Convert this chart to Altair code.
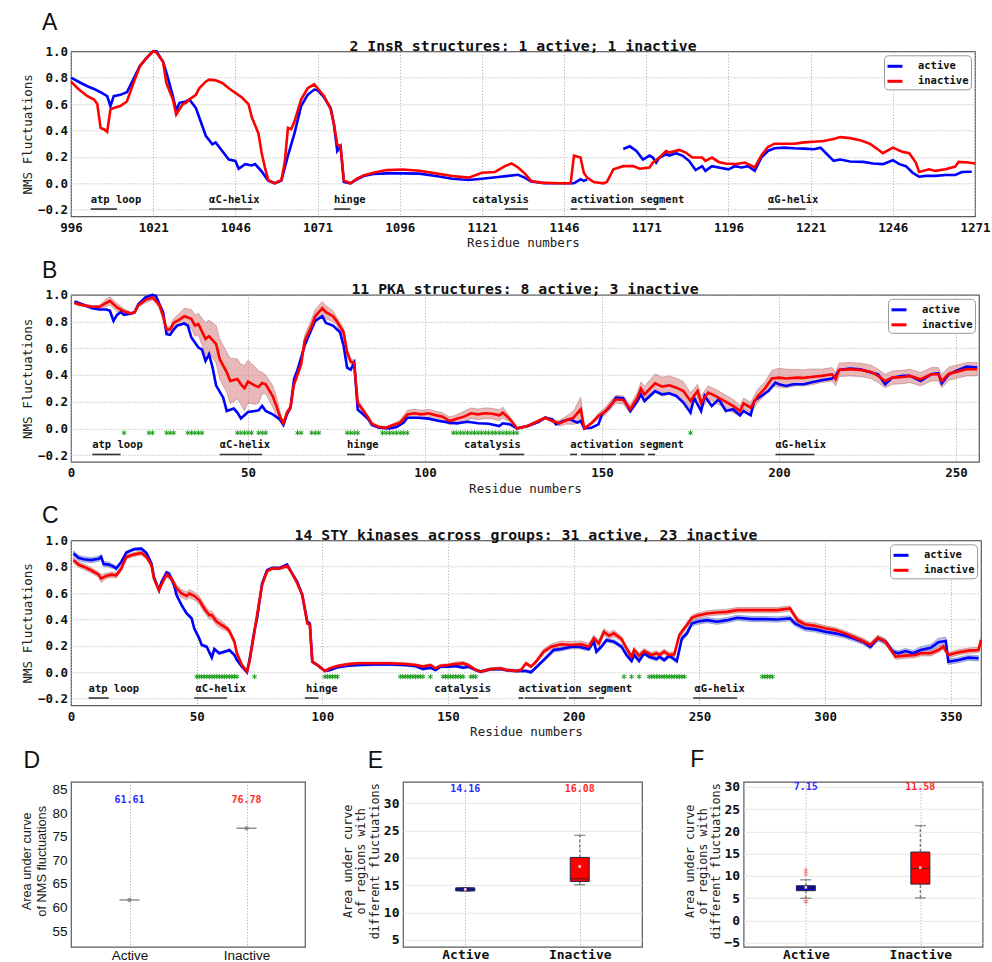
import json
import altair as alt
import pandas as pd

MONO = "DejaVu Sans Mono"
SANS = "Liberation Sans"
BLUE = "#0000ff"
RED = "#ff0000"
GREEN = "#1b9e1b"
ASTERISK = "M0,-1L0,1M-0.87,-0.5L0.87,0.5M-0.87,0.5L0.87,-0.5"
PLUS = "M-1,0L1,0M0,-1L0,1"
STATES = ["active", "inactive"]

# ---------------- Panel A : InsR ----------------
a_title = "2 InsR structures: 1 active; 1 inactive"
a_ticks = [996, 1021, 1046, 1071, 1096, 1121, 1146, 1171, 1196, 1221, 1246, 1271]
a_active = [(996,0.80),(999,0.76),(1001,0.735),(1003,0.715),(1005,0.69),(1007,0.66),(1008,0.585),(1009,0.66),
    (1011,0.67),(1013,0.69),(1015,0.79),(1017,0.89),(1019,0.95),(1021,1.0),(1022,1.0),(1024,0.92),(1025,0.84),
    (1027,0.66),(1028,0.55),(1029,0.61),(1031,0.62),(1032,0.635),(1034,0.57),(1035,0.50),(1037,0.36),(1039,0.295),
    (1040,0.31),(1042,0.245),(1044,0.18),(1046,0.17),(1047,0.11),(1049,0.145),(1051,0.135),(1052,0.145),(1054,0.09),
    (1056,0.02),(1058,0.0),(1060,0.02),(1062,0.21),(1064,0.38),(1066,0.585),(1068,0.67),(1070,0.71),(1071,0.705),
    (1073,0.65),(1075,0.57),(1076,0.445),(1077,0.245),(1078,0.28),(1079,0.01),(1081,0.0),(1083,0.03),(1085,0.055),
    (1088,0.07),(1092,0.075),(1097,0.075),(1102,0.073),(1107,0.055),(1112,0.035),(1117,0.025),(1121,0.035),
    (1126,0.048),(1129,0.056),(1132,0.065),(1134,0.043),(1136,0.013),(1140,0.0),(1144,0.0),(1149,0.0),(1151,0.03),
    (1152,0.018),(1153,0.03),(1158,None),(1164,0.26),(1166,0.28),(1168,0.245),(1170,0.18),(1172,0.21),(1173,0.195),
    (1174,0.157),(1175,0.195),(1177,0.22),(1178,0.21),(1180,0.228),(1182,0.21),(1184,0.17),(1186,0.10),(1188,0.13),
    (1189,0.094),(1191,0.13),(1193,0.12),(1196,0.106),(1198,0.13),(1200,0.12),(1202,0.13),(1204,0.094),(1206,0.195),
    (1208,0.245),(1210,0.265),(1213,0.27),(1216,0.265),(1219,0.263),(1222,0.258),(1224,0.27),(1226,0.22),(1228,0.17),
    (1230,0.18),(1233,0.165),(1237,0.162),(1240,0.15),(1243,0.145),(1246,0.175),(1248,0.145),(1250,0.13),(1252,0.08),
    (1254,0.05),(1256,0.056),(1259,0.056),(1262,0.063),(1265,0.063),(1267,0.086),(1270,0.088)]
a_inactive = [(996,0.77),(998,0.72),(999,0.70),(1001,0.66),(1003,0.635),(1004,0.60),(1005,0.42),(1006,0.41),
    (1007,0.39),(1008,0.56),(1009,0.57),(1011,0.585),(1013,0.62),(1015,0.76),(1017,0.89),(1019,0.95),(1021,1.0),
    (1022,0.99),(1024,0.92),(1025,0.76),(1027,0.635),(1028,0.52),(1030,0.60),(1031,0.61),(1032,0.635),(1034,0.67),
    (1035,0.72),(1037,0.77),(1038,0.785),(1040,0.78),(1042,0.76),(1044,0.72),(1046,0.685),(1048,0.65),(1050,0.60),
    (1051,0.50),(1053,0.38),(1054,0.23),(1055,0.12),(1056,0.025),(1058,0.0),(1060,0.025),(1061,0.155),(1062,0.42),
    (1063,0.41),(1064,0.47),(1066,0.635),(1068,0.72),(1070,0.75),(1071,0.72),(1073,0.66),(1075,0.56),(1076,0.445),
    (1077,0.295),(1078,0.28),(1079,0.02),(1081,0.0),(1083,0.035),(1085,0.06),(1088,0.08),(1092,0.10),(1097,0.105),
    (1102,0.095),(1107,0.075),(1112,0.055),(1117,0.043),(1121,0.08),(1125,0.086),(1128,0.13),(1130,0.15),(1132,0.12),
    (1134,0.075),(1136,0.018),(1139,0.005),(1144,0.0),(1148,0.0),(1149,0.21),(1151,0.195),(1152,0.08),(1153,0.043),
    (1155,0.01),(1158,0.0),(1159,0.01),(1161,0.106),(1164,0.13),(1167,0.13),(1169,0.11),(1172,0.12),(1173,0.157),
    (1175,0.195),(1177,0.245),(1178,0.233),(1181,0.253),(1183,0.233),(1185,0.195),(1188,0.195),(1189,0.17),
    (1191,0.195),(1193,0.162),(1195,0.15),(1198,0.145),(1201,0.157),(1204,0.12),(1206,0.21),(1208,0.275),(1210,0.30),
    (1213,0.30),(1216,0.30),(1219,0.31),(1222,0.315),(1225,0.32),(1228,0.335),(1230,0.35),(1233,0.342),(1236,0.327),
    (1239,0.30),(1241,0.265),(1243,0.228),(1246,0.27),(1249,0.238),(1251,0.228),(1253,0.157),(1254,0.086),
    (1257,0.106),(1259,0.094),(1262,0.106),(1265,0.127),(1266,0.162),(1269,0.157),(1271,0.15)]
a_ann_text = ["atp loop", "αC-helix", "hinge", "catalysis", "activation segment", "αG-helix"]
a_ann_pos = [1002, 1038, 1076, 1118, 1148, 1208]
a_seg_start = [1002, 1038, 1076, 1128, 1148, 1151, 1166.5, 1175, 1208]
a_seg_end = [1010, 1051, 1081, 1135, 1150, 1166, 1174, 1177, 1219.5]

# ---------------- Panel B : PKA ----------------
b_title = "11 PKA structures: 8 active; 3 inactive"
b_ticks = [0, 50, 100, 150, 200, 250]
b_active = [(1,0.95),(2,0.94),(4,0.92),(6,0.90),(8,0.89),(10,0.89),(11,0.88),(12,0.805),(13,0.85),(14,0.87),
    (15,0.85),(17,0.86),(18,0.87),(19,0.93),(21,0.98),(23,1.0),(24,0.99),(25,0.93),(26,0.87),(27,0.705),(28,0.70),
    (29,0.74),(30,0.77),(32,0.785),(33,0.77),(34,0.68),(36,0.605),(37,0.59),(38,0.505),(39,0.555),(40,0.455),
    (41,0.32),(43,0.23),(44,0.13),(46,0.148),(47,0.118),(48,0.075),(50,0.123),(52,0.13),(53,0.135),(54,0.168),
    (55,0.13),(57,0.105),(59,0.068),(60,0.025),(61,0.105),(62,0.155),(63,0.37),(64,0.44),(66,0.62),(68,0.75),
    (69,0.805),(71,0.84),(72,0.79),(74,0.77),(76,0.72),(77,0.62),(78,0.455),(79,0.44),(80,0.49),(81,0.14),
    (82,0.118),(84,0.068),(85,0.025),(87,0.005),(90,0.0),(92,0.01),(94,0.043),(95,0.08),(98,0.08),(101,0.073),
    (104,0.055),(107,0.043),(109,0.038),(112,0.05),(115,0.038),(118,0.035),(121,0.018),(122,0.038),(124,0.03),
    (126,0.0),(129,0.018),(132,0.048),(134,0.08),(136,0.068),(137,0.03),(139,0.055),(141,0.068),(143,0.043),
    (144,0.055),(145,0.0),(147,0.005),(149,0.03),(150,0.105),(152,0.155),(154,0.23),(156,0.225),(158,0.13),
    (160,0.205),(161,0.255),(162,0.205),(165,0.28),(167,0.255),(169,0.263),(171,0.243),(173,0.193),(175,0.118),
    (176,0.23),(178,0.13),(179,0.243),(181,0.168),(183,0.218),(185,0.13),(187,0.143),(189,0.098),(190,0.13),
    (192,0.098),(193,0.205),(195,0.243),(197,0.28),(199,0.343),(200,0.33),(202,0.318),(204,0.33),(207,0.33),
    (209,0.343),(212,0.36),(215,0.373),(216,0.393),(217,0.438),(220,0.448),(223,0.443),(226,0.418),(228,0.405),
    (230,0.33),(232,0.38),(235,0.393),(237,0.393),(240,0.355),(243,0.405),(245,0.413),(246,0.338),(248,0.405),
    (250,0.43),(253,0.463),(256,0.455)]
b_inactive = [(1,0.94,0.01),(2,0.93,0.01),(4,0.92,0.01),(6,0.91,0.01),(8,0.91,0.01),(10,0.94,0.03),(11,0.955,0.03),
    (13,0.905,0.03),(15,0.875,0.02),(17,0.86,0.01),(18,0.87,0.01),(19,0.92,0.01),(21,0.96,0.02),(23,0.98,0.02),
    (24,0.955,0.02),(25,0.92,0.02),(26,0.84,0.02),(27,0.74,0.02),(28,0.74,0.02),(29,0.79,0.03),(31,0.82,0.05),
    (32,0.84,0.06),(34,0.82,0.07),(35,0.77,0.08),(36,0.78,0.08),(38,0.67,0.12),(39,0.69,0.12),(41,0.63,0.14),
    (42,0.52,0.15),(44,0.42,0.15),(45,0.355,0.17),(47,0.37,0.15),(48,0.33,0.15),(49,0.30,0.17),(50,0.35,0.16),
    (52,0.32,0.14),(53,0.31,0.12),(54,0.34,0.08),(55,0.33,0.07),(57,0.24,0.08),(58,0.17,0.07),(59,0.09,0.04),
    (60,0.038,0.01),(61,0.118,0.02),(62,0.155,0.02),(63,0.33,0.02),(65,0.48,0.03),(66,0.655,0.04),(68,0.77,0.05),
    (69,0.84,0.05),(71,0.90,0.05),(72,0.87,0.05),(74,0.84,0.04),(75,0.805,0.03),(77,0.72,0.03),(78,0.57,0.03),
    (79,0.50,0.02),(80,0.49,0.02),(81,0.19,0.02),(82,0.155,0.02),(84,0.08,0.01),(85,0.035,0.01),(87,0.01,0.01),
    (89,0.005,0.01),(91,0.025,0.01),(93,0.043,0.02),(95,0.105,0.03),(97,0.113,0.03),(99,0.105,0.03),
    (101,0.113,0.03),(103,0.098,0.03),(105,0.088,0.03),(107,0.055,0.03),(109,0.073,0.03),(111,0.088,0.04),
    (113,0.113,0.04),(115,0.105,0.04),(117,0.113,0.04),(119,0.11,0.04),(121,0.098,0.04),(122,0.118,0.04),
    (124,0.068,0.02),(126,0.0,0.01),(129,0.018,0.01),(132,0.055,0.01),(134,0.08,0.01),(136,0.055,0.01),
    (138,0.038,0.02),(140,0.063,0.03),(142,0.08,0.05),(144,0.143,0.09),(145,0.0,0.01),(147,0.038,0.01),
    (149,0.093,0.02),(151,0.13,0.03),(153,0.193,0.03),(154,0.218,0.03),(156,0.213,0.03),(158,0.143,0.03),
    (160,0.23,0.04),(161,0.298,0.05),(162,0.255,0.06),(165,0.338,0.07),(167,0.313,0.07),(169,0.323,0.07),
    (171,0.305,0.07),(173,0.28,0.07),(175,0.205,0.06),(177,0.28,0.05),(178,0.193,0.05),(180,0.268,0.05),
    (182,0.243,0.05),(184,0.213,0.05),(185,0.198,0.05),(187,0.168,0.05),(189,0.13,0.04),(190,0.188,0.04),
    (192,0.155,0.04),(194,0.243,0.05),(196,0.298,0.05),(198,0.373,0.06),(200,0.38,0.07),(202,0.373,0.07),
    (205,0.38,0.06),(207,0.378,0.06),(209,0.385,0.06),(212,0.393,0.05),(215,0.405,0.05),(216,0.368,0.05),
    (217,0.438,0.05),(220,0.443,0.05),(223,0.438,0.05),(226,0.423,0.05),(228,0.393,0.05),(230,0.355,0.05),
    (232,0.38,0.05),(235,0.385,0.05),(237,0.393,0.05),(240,0.368,0.05),(243,0.405,0.05),(245,0.405,0.05),
    (246,0.355,0.05),(248,0.41,0.05),(250,0.423,0.05),(253,0.443,0.05),(256,0.443,0.05)]
b_ann_text = ["atp loop", "αC-helix", "hinge", "catalysis", "activation segment", "αG-helix"]
b_ann_pos = [6, 42, 78, 111, 141, 199]
b_seg_start = [6, 42, 78, 121, 141, 144, 155, 163, 199]
b_seg_end = [14, 54, 83, 128, 143, 154, 162, 165, 210]
b_stars = [15, 22, 23, 27, 28, 29, 33, 34, 35, 36, 37, 47, 48, 49, 50, 51, 53, 54, 55, 64, 65, 68, 69, 70,
    78, 79, 80, 81, 88, 89, 90, 91, 92, 93, 94, 95, 108, 109, 110, 111, 112, 113, 114, 115, 116, 117, 118,
    119, 120, 121, 122, 123, 124, 125, 126, 175]

# ---------------- Panel C : 14 STY kinases ----------------
c_title = "14 STY kinases across groups: 31 active, 23 inactive"
c_ticks = [0, 50, 100, 150, 200, 250, 300, 350]
c_active = [(1,0.90,0.02),(3,0.867,0.02),(5,0.856,0.02),(8,0.85,0.02),(11,0.86,0.02),(12,0.874,0.02),
    (13,0.82,0.02),(15,0.816,0.02),(17,0.80,0.015),(18,0.786,0.015),(20,0.836,0.01),(22,0.907,0.01),
    (25,0.932,0.01),(28,0.937,0.01),(30,0.904,0.01),(32,0.824,0.01),(33,0.723,0.01),(35,0.622,0.01),
    (36,0.685,0.01),(38,0.756,0.01),(39,0.748,0.01),(41,0.66,0.01),(42,0.584,0.01),(44,0.509,0.01),
    (46,0.446,0.01),(48,0.408,0.01),(49,0.333,0.01),(51,0.257,0.01),(52,0.207,0.01),(54,0.194,0.01),
    (56,0.111,0.01),(57,0.176,0.01),(59,0.144,0.01),(62,0.161,0.01),(63,0.169,0.01),(65,0.131,0.01),
    (66,0.093,0.01),(68,0.043,0.01),(70,0.0,0.01),(71,0.093,0.01),(73,0.32,0.01),(74,0.408,0.01),(76,0.673,0.01),
    (78,0.773,0.01),(80,0.79,0.01),(83,0.79,0.01),(86,0.816,0.01),(88,0.748,0.01),(90,0.685,0.01),(92,0.584,0.01),
    (94,0.383,0.01),(95,0.37,0.01),(96,0.08,0.01),(98,0.055,0.01),(101,0.01,0.01),(103,0.018,0.01),
    (106,0.038,0.01),(110,0.05,0.01),(114,0.055,0.01),(121,0.06,0.01),(127,0.06,0.01),(133,0.055,0.01),
    (137,0.048,0.01),(140,0.025,0.01),(143,0.035,0.01),(145,0.018,0.01),(147,0.043,0.01),(150,0.043,0.01),
    (153,0.048,0.01),(156,0.035,0.01),(158,0.043,0.01),(161,0.018,0.01),(163,0.005,0.01),(167,0.023,0.01),
    (171,0.025,0.01),(173,0.018,0.01),(177,0.01,0.01),(181,0.01,0.01),(183,0.0,0.01),(186,0.055,0.01),
    (189,0.111,0.015),(192,0.169,0.015),(195,0.176,0.015),(199,0.194,0.015),(202,0.194,0.015),(206,0.176,0.015),
    (208,0.232,0.015),(209,0.156,0.015),(211,0.194,0.015),(213,0.244,0.015),(216,0.232,0.015),(219,0.194,0.015),
    (221,0.131,0.015),(223,0.086,0.015),(224,0.131,0.015),(226,0.086,0.015),(228,0.144,0.015),(230,0.118,0.015),
    (233,0.10,0.015),(234,0.118,0.015),(236,0.093,0.015),(238,0.126,0.015),(241,0.086,0.015),(243,0.257,0.02),
    (245,0.295,0.02),(247,0.37,0.02),(249,0.383,0.02),(253,0.395,0.02),(257,0.383,0.02),(261,0.395,0.02),
    (265,0.413,0.02),(271,0.403,0.02),(276,0.403,0.02),(281,0.40,0.02),(286,0.408,0.02),(288,0.37,0.02),
    (292,0.333,0.02),(296,0.325,0.02),(300,0.307,0.02),(304,0.295,0.02),(308,0.277,0.02),(312,0.252,0.02),
    (315,0.232,0.02),(318,0.194,0.02),(321,0.257,0.02),(324,0.232,0.02),(327,0.156,0.02),(329,0.144,0.02),
    (332,0.161,0.02),(335,0.144,0.02),(338,0.169,0.025),(342,0.186,0.025),(345,0.227,0.03),(348,0.237,0.03),
    (349,0.08,0.02),(353,0.093,0.02),(357,0.111,0.02),(361,0.106,0.02)]
c_inactive = [(1,0.85,0.02),(3,0.816,0.02),(5,0.80,0.02),(8,0.773,0.02),(11,0.74,0.02),(12,0.71,0.03),
    (14,0.73,0.02),(16,0.74,0.02),(18,0.735,0.02),(20,0.786,0.02),(22,0.874,0.015),(25,0.892,0.015),
    (28,0.904,0.015),(30,0.874,0.015),(32,0.811,0.015),(33,0.71,0.015),(35,0.622,0.015),(36,0.665,0.015),
    (38,0.74,0.02),(40,0.71,0.02),(42,0.635,0.03),(44,0.597,0.03),(46,0.579,0.03),(47,0.597,0.03),(49,0.579,0.03),
    (51,0.547,0.03),(53,0.484,0.03),(55,0.433,0.03),(56,0.433,0.03),(58,0.383,0.03),(60,0.358,0.03),
    (62,0.333,0.02),(63,0.312,0.02),(65,0.232,0.02),(66,0.144,0.02),(68,0.055,0.01),(70,0.005,0.01),
    (71,0.08,0.01),(73,0.307,0.01),(74,0.433,0.01),(76,0.66,0.01),(78,0.766,0.01),(80,0.786,0.01),(83,0.786,0.01),
    (86,0.806,0.015),(88,0.748,0.01),(90,0.673,0.01),(92,0.589,0.01),(94,0.37,0.01),(95,0.363,0.01),
    (96,0.08,0.01),(98,0.055,0.01),(101,0.01,0.01),(103,0.03,0.01),(106,0.048,0.01),(110,0.06,0.01),
    (114,0.068,0.01),(121,0.068,0.01),(127,0.068,0.01),(133,0.063,0.01),(137,0.055,0.01),(140,0.043,0.01),
    (143,0.055,0.01),(145,0.03,0.01),(147,0.05,0.01),(150,0.055,0.01),(153,0.063,0.015),(156,0.068,0.015),
    (158,0.055,0.01),(161,0.018,0.01),(163,0.005,0.01),(167,0.025,0.01),(171,0.03,0.01),(173,0.018,0.01),
    (177,0.01,0.01),(179,0.018,0.01),(181,0.068,0.01),(183,0.043,0.01),(185,0.08,0.015),(188,0.156,0.02),
    (191,0.194,0.02),(195,0.212,0.025),(199,0.207,0.025),(203,0.212,0.025),(206,0.194,0.025),(208,0.257,0.025),
    (210,0.219,0.025),(212,0.307,0.025),(214,0.277,0.025),(216,0.295,0.025),(219,0.252,0.02),(221,0.181,0.02),
    (223,0.118,0.02),(224,0.169,0.02),(226,0.126,0.02),(228,0.161,0.02),(231,0.131,0.02),(233,0.144,0.02),
    (234,0.131,0.02),(236,0.156,0.02),(238,0.131,0.02),(240,0.136,0.02),(242,0.282,0.02),(245,0.358,0.02),
    (247,0.413,0.02),(249,0.428,0.02),(253,0.446,0.02),(257,0.453,0.02),(261,0.458,0.02),(265,0.471,0.02),
    (271,0.471,0.02),(276,0.471,0.02),(281,0.471,0.02),(286,0.484,0.02),(289,0.395,0.02),(292,0.363,0.02),
    (296,0.353,0.02),(300,0.333,0.02),(304,0.32,0.02),(308,0.295,0.02),(312,0.262,0.02),(315,0.237,0.02),
    (318,0.207,0.02),(321,0.262,0.02),(324,0.232,0.02),(328,0.118,0.02),(332,0.126,0.02),(336,0.131,0.02),
    (338,0.144,0.02),(342,0.144,0.02),(345,0.169,0.02),(347,0.194,0.02),(349,0.131,0.02),(353,0.151,0.02),
    (357,0.164,0.02),(361,0.169,0.02),(362,0.244,0.02)]
c_ann_text = ["atp loop", "αC-helix", "hinge", "catalysis", "activation segment", "αG-helix"]
c_ann_pos = [7, 49.5, 93.5, 144.5, 178, 248]
c_seg_start = [7, 49, 93, 154.5, 178, 180.5, 198, 210, 247.5]
c_seg_end = [15, 62, 98.5, 162, 180, 197, 209, 212, 265]
c_stars = [50, 51, 52, 53, 54, 55, 56, 57, 58, 59, 60, 61, 62, 63, 64, 65, 66, 73, 101, 102, 103, 104, 105, 106,
    131, 132, 133, 134, 135, 136, 137, 138, 139, 140, 143, 148, 149, 150, 151, 152, 153, 154, 155, 156, 159, 160,
    161, 220, 223, 226, 230, 231, 232, 233, 234, 235, 236, 237, 238, 239, 240, 241, 242, 243, 244,
    275, 276, 277, 278, 279]

# ---------------- Panels D, E, F ----------------
box_cats = ["Active", "Inactive"]
box_pos = [1, 2]
d_vals = [61.61, 76.78]
d_labels = ["61.61", "76.78"]
e_q1 = [13.92, 15.66]
e_med = [14.2, 16.14]
e_q3 = [14.5, 20.06]
e_wlo = [13.92, 15.06]
e_whi = [14.5, 24.1]
e_mean = [14.2, 18.4]
e_labels = ["14.16", "16.08"]
f_q1 = [6.68, 8.16]
f_med = [7.28, 11.64]
f_q3 = [7.79, 15.34]
f_wlo = [4.98, 5.06]
f_whi = [9.13, 21.27]
f_mean = [7.43, 11.87]
f_labels = ["7.15", "11.58"]
f_out_pos = [1, 1, 1, 1, 1]
f_out_val = [11.35, 10.83, 10.24, 4.46, 4.09]
d_ytitle = ["Area under curve", "of NMS fluctuations"]
ef_ytitle = ["Area under curve", "of regions with", "different fluctuations"]


def series_df(rows, state):
    cols = ["res", "val", "sd"][: len(rows[0])]
    df = pd.DataFrame(rows, columns=cols)
    df["val"] = df["val"].astype(float)
    df["state"] = state
    df["seg"] = df["val"].isna().cumsum()
    if "sd" in df:
        df["lo"] = df["val"] - df["sd"]
        df["hi"] = df["val"] + df["sd"]
    return df.dropna(subset=["val"])


def letter_title(letter, dx, offset):
    return alt.TitleParams(letter, font=SANS, fontSize=23, fontWeight="normal", anchor="start", frame="group",
                           dx=dx, dy=22.5, offset=offset, baseline="alphabetic", color="#111")


def line_panel(letter, loff, title, xdom, xticks, act, inact, bands, ann_text, ann_pos,
               seg_s, seg_e, stars, W, H):
    xs = alt.Scale(domain=xdom, nice=False, zero=False)
    ys = alt.Scale(domain=[-0.25, 1.0], nice=False, zero=False)
    xax = alt.Axis(values=xticks, format="d", title="Residue numbers", labelFont=MONO, labelFontSize=12.5,
                   labelFontWeight="bold", titleFont=MONO, titleFontSize=12.5, titleFontWeight="normal",
                   grid=True, gridDash=[1, 2], gridColor="#a8a8a8", ticks=False, domain=False, labelFlush=False,
                   labelPadding=5, titlePadding=3, labelColor="#111", titleColor="#222")
    yax = alt.Axis(values=[-0.2, 0, 0.2, 0.4, 0.6, 0.8, 1.0], format=".1f", title="NMS Fluctuations",
                   labelFont=MONO, labelFontSize=12.5, labelFontWeight="bold", titleFont=MONO,
                   titleFontSize=12.5, titleFontWeight="normal", grid=True, gridDash=[1, 2],
                   gridColor="#a8a8a8", ticks=False, domain=False, labelPadding=3.5, titlePadding=3,
                   labelColor="#111", titleColor="#222")

    def X(f):
        return alt.X(f, type="quantitative", scale=xs, axis=xax)

    def Y(f):
        return alt.Y(f, type="quantitative", scale=ys, axis=yax)

    def YD(v):
        return alt.YDatum(v, type="quantitative", scale=ys, axis=yax)

    color = alt.Color("state:N", scale=alt.Scale(domain=STATES, range=[BLUE, RED]),
                      legend=alt.Legend(title=None, orient="top-right", offset=4, padding=2,
                                        fillColor="white", strokeColor="#9a9a9a", cornerRadius=4,
                                        symbolType="stroke", symbolStrokeWidth=3, symbolSize=225,
                                        labelFont=MONO, labelFontSize=10.5, labelFontWeight="bold",
                                        labelOffset=14, rowPadding=0, labelColor="#111"))
    layers = []
    for df, fill, stroke in bands:
        layers.append(alt.Chart(df).mark_area(fill=fill, fillOpacity=0.55, stroke=stroke, strokeOpacity=0.7,
                                              strokeWidth=0.7).encode(x=X("res"), y=Y("lo"), y2="hi"))
    for df in (act, inact):
        layers.append(alt.Chart(df).mark_line(strokeWidth=2.6).encode(
            x=X("res"), y=Y("val"), color=color, detail="seg:N"))
    ann = pd.DataFrame({"label": ann_text, "pos": ann_pos})
    layers.append(alt.Chart(ann).mark_text(align="left", baseline="middle", font=MONO, fontWeight="bold",
                                           fontSize=10.5, color="#111").encode(
        x=X("pos"), y=YD(-0.125), text="label:N"))
    segs = pd.DataFrame({"s": seg_s, "e": seg_e})
    layers.append(alt.Chart(segs).mark_rule(color="#333333", strokeWidth=1.6).encode(
        x=X("s"), x2="e", y=YD(-0.195)))
    if stars:
        st = pd.DataFrame({"res": stars})
        layers.append(alt.Chart(st).mark_point(shape=ASTERISK, filled=False, color=GREEN, size=26,
                                               strokeWidth=1, opacity=1).encode(x=X("res"), y=YD(-0.033)))
    tt = pd.DataFrame({"t": [title]})
    layers.append(alt.Chart(tt).mark_text(font=MONO, fontSize=14.8, fontWeight="bold", align="center",
                                          baseline="middle", color="#111").encode(
        text="t:N", x=alt.value(W / 2), y=alt.value(-4.5)))
    return alt.layer(*layers).properties(width=W, height=H, title=letter_title(letter, -29, loff))


# ---------- build A, B, C ----------
A = line_panel("A", 8.5, a_title, [996, 1271], a_ticks,
               series_df(a_active, "active"), series_df(a_inactive, "inactive"), [],
               a_ann_text, a_ann_pos, a_seg_start, a_seg_end, [], 904, 165)
b_in = series_df(b_inactive, "inactive")
B = line_panel("B", 3.5, b_title, [0, 256.5], b_ticks,
               series_df(b_active, "active"), b_in, [(b_in, "#d77f7f", "#b06868")],
               b_ann_text, b_ann_pos, b_seg_start, b_seg_end, b_stars, 908, 167)
c_ac = series_df(c_active, "active")
c_in = series_df(c_inactive, "inactive")
C = line_panel("C", 4, c_title, [0, 362], c_ticks, c_ac, c_in,
               [(c_ac, "#7f8fd7", "#6070b8"), (c_in, "#d77f7f", "#b06868")],
               c_ann_text, c_ann_pos, c_seg_start, c_seg_end, c_stars, 910, 165)


# ---------- box panels ----------
def bx_axis(font, size, weight):
    return alt.Axis(values=box_pos, labelExpr=f"{json.dumps(box_cats)}[datum.value - 1]", title=None,
                    grid=True, gridDash=[1, 2], gridColor="#a0a0a0", ticks=False, domain=False,
                    labelFont=font, labelFontSize=size, labelFontWeight=weight, labelPadding=2,
                    labelFlush=False, labelColor="#111")


bxs = alt.Scale(domain=[0.5, 2.5], nice=False, zero=False)
txt_color = alt.Color("cat:N", scale=alt.Scale(domain=box_cats, range=["#2a2aff", "#ff2a2a"]), legend=None)


def ytitle_layers(lines, centers, H, font, size):
    out = []
    for ln, cx in zip(lines, centers):
        out.append(alt.Chart(pd.DataFrame({"t": [ln]})).mark_text(
            angle=270, align="center", baseline="middle", font=font, fontSize=size, color="#222").encode(
            text="t:N", x=alt.value(cx), y=alt.value(H / 2 - 3)))
    return out


BH = 165
# D
d_df = pd.DataFrame({"cat": box_cats, "pos": box_pos, "val": d_vals, "label": d_labels})
d_ys = alt.Scale(domain=[51.7, 86.6], nice=False, zero=False)
d_yax = alt.Axis(values=[55, 60, 65, 70, 75, 80, 85], title=None, labelFont=SANS, labelFontSize=13.5,
                 grid=False, ticks=False, domain=False, labelPadding=4, labelColor="#111")
d_x = alt.X("pos:Q", scale=bxs, axis=bx_axis(SANS, 13.5, "normal"))
D = alt.layer(
    alt.Chart(d_df).mark_tick(orient="horizontal", size=20, thickness=1.4, color="#555555").encode(
        x=d_x, y=alt.Y("val:Q", scale=d_ys, axis=d_yax)),
    alt.Chart(d_df).mark_point(size=6, color="#777777", filled=False).encode(
        x=d_x, y=alt.Y("val:Q", scale=d_ys, axis=d_yax)),
    alt.Chart(d_df).mark_text(font=MONO, fontWeight="bold", fontSize=10, baseline="middle").encode(
        x=d_x, y=alt.YDatum(82.8, type="quantitative", scale=d_ys, axis=d_yax), text="label:N", color=txt_color),
    *ytitle_layers(d_ytitle, [-43.7, -28.7], BH, SANS, 12.8),
).properties(width=234, height=BH, title=letter_title("D", -47.5, 13))


def box_panel(letter, ldx, tcx, q1, med, q3, wlo, whi, mean, labels, label_y, ydom, yvals, W, H,
              out_pos=None, out_val=None):
    df = pd.DataFrame({"cat": box_cats, "pos": box_pos, "q1": q1, "med": med, "q3": q3, "wlo": wlo,
                       "whi": whi, "mean": mean, "label": labels})
    ys = alt.Scale(domain=ydom, nice=False, zero=False)
    yax = alt.Axis(values=yvals, title=None, labelFont=MONO, labelFontSize=13, labelFontWeight="bold",
                   grid=True, gridColor="#e6e6e6", ticks=False, domain=False, labelPadding=4, labelColor="#111")
    x = alt.X("pos:Q", scale=bxs, axis=bx_axis(MONO, 13, "bold"))

    def Y(f):
        return alt.Y(f, type="quantitative", scale=ys, axis=yax)

    fill = alt.Fill("cat:N", scale=alt.Scale(domain=box_cats, range=["#0a0ac8", "#ff0000"]), legend=None)
    layers = [
        alt.Chart(df).mark_rule(color="#7a7a7a", strokeDash=[3, 2], strokeWidth=1.3).encode(
            x=x, y=Y("wlo"), y2="q1"),
        alt.Chart(df).mark_rule(color="#7a7a7a", strokeDash=[3, 2], strokeWidth=1.3).encode(
            x=x, y=Y("q3"), y2="whi"),
        alt.Chart(df).mark_tick(orient="horizontal", size=11, thickness=1.4, color="#666666").encode(
            x=x, y=Y("wlo")),
        alt.Chart(df).mark_tick(orient="horizontal", size=11, thickness=1.4, color="#666666").encode(
            x=x, y=Y("whi")),
        alt.Chart(df).mark_bar(size=19, stroke="#222244", strokeWidth=1).encode(
            x=x, y=Y("q1"), y2="q3", fill=fill),
        alt.Chart(df).mark_tick(orient="horizontal", size=19, thickness=1.2, color="#222222").encode(
            x=x, y=Y("med")),
        alt.Chart(df).mark_point(shape="square", size=7, filled=True, color="#ffc8c8", opacity=1).encode(
            x=x, y=Y("mean")),
    ]
    if out_pos:
        od = pd.DataFrame({"pos": out_pos, "val": out_val})
        layers.append(alt.Chart(od).mark_point(shape=PLUS, size=22, filled=False, color="#ff5555",
                                               strokeWidth=1).encode(x=x, y=Y("val")))
    layers.append(alt.Chart(df).mark_text(font=MONO, fontWeight="bold", fontSize=10, baseline="middle").encode(
        x=x, y=alt.YDatum(label_y, type="quantitative", scale=ys, axis=yax), text="label:N", color=txt_color))
    layers.extend(ytitle_layers(ef_ytitle, tcx, H, MONO, 11.8))
    return alt.layer(*layers).properties(width=W, height=H, title=letter_title(letter, ldx, 13))


E = box_panel("E", -35.3, [-55, -41.6, -28.3], e_q1, e_med, e_q3, e_wlo, e_whi, e_mean, e_labels, 32.6,
              [3.7, 33.9], [5, 10, 15, 20, 25, 30], 239, BH)
F = box_panel("F", -53.3, [-54, -40.6, -27.3], f_q1, f_med, f_q3, f_wlo, f_whi, f_mean, f_labels, 30.0,
              [-5.9, 31.1], [-5, 0, 5, 10, 15, 20, 25, 30], 239, BH, f_out_pos, f_out_val)

ef = alt.hconcat(E, F, spacing=40.6)
bottom = alt.hconcat(D, ef, spacing=36).resolve_scale(color="independent", fill="independent")
top = alt.vconcat(A, B, C, spacing=8.5).resolve_scale(color="independent").resolve_legend(color="independent")
chart = alt.vconcat(top, bottom, spacing=8.5).resolve_scale(color="independent", fill="independent") \
    .resolve_legend(color="independent").configure(
    padding={"left": 20, "top": 10.3, "right": 0, "bottom": 0}, background="white"
).configure_view(stroke="#5a5a5a", strokeWidth=1.2)

chart.save("out.html", embed_options={"renderer": "svg", "actions": False})
